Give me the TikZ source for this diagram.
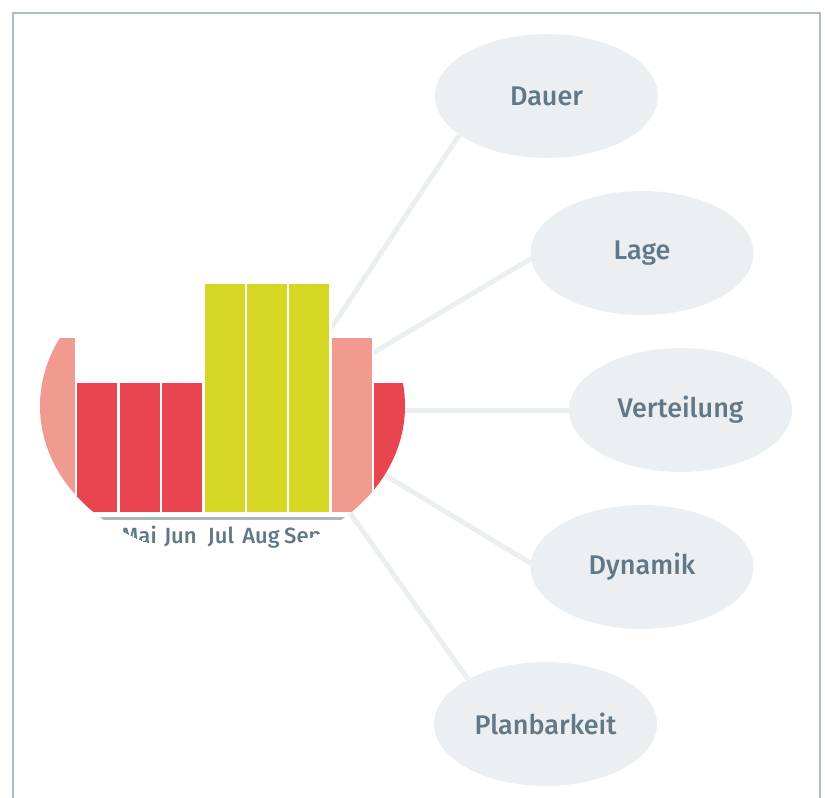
\documentclass[tikz,border=0pt]{standalone}
\usepackage{fontspec}
\setmainfont{Fira Sans}
\newfontfamily\medfont{Fira Sans Medium}
\usetikzlibrary{shapes.geometric,backgrounds}

\definecolor{framecol}{HTML}{AEBCC4}
\definecolor{bubblefill}{HTML}{ECEFF2}
\definecolor{labelcol}{HTML}{617888}
\definecolor{axiscol}{HTML}{A8B7C0}
\definecolor{barred}{HTML}{E84550}
\definecolor{barpink}{HTML}{F09A90}
\definecolor{baryellow}{HTML}{D6D624}

\tikzset{
  bubble/.style={ellipse, fill=bubblefill, minimum width=223pt, minimum height=124pt,
    inner sep=0pt, text=labelcol, font=\medfont\fontsize{27}{30}\selectfont},
  conn/.style={draw=bubblefill, line width=5pt},
  monthlabel/.style={anchor=base, inner sep=0pt, text=labelcol,
    font=\medfont\fontsize{22}{24}\selectfont},
  bar/.style={fill=#1, draw=white, line width=2.4pt},
}

\begin{document}
\begin{tikzpicture}[x=1pt, y=-1pt]
  \useasboundingbox (0,0) rectangle (825,798);

  % outer frame, open towards the bottom
  \draw[framecol, line width=2pt] (12.5,812) -- (12.5,12.5) -- (819.5,12.5) -- (819.5,812);

  % topic bubbles
  \node[bubble] (dauer)       at (546.5,96)  {Dauer};
  \node[bubble] (lage)        at (642,253)   {Lage};
  \node[bubble] (verteilung)  at (680.5,410) {Verteilung};
  \node[bubble] (dynamik)     at (642,567)   {Dynamik};
  \node[bubble] (planbarkeit) at (545.5,724) {Planbarkeit};

  \coordinate (hub) at (277,410);

  % spokes behind everything
  \begin{pgfonlayer}{background}
    \draw[conn] (hub) -- (dauer.204);
    \draw[conn] (hub) -- (lage.183);
    \draw[conn] (hub) -- (verteilung.180);
    \draw[conn] (hub) -- (dynamik.178);
    \draw[conn] (hub) -- (planbarkeit.150);
  \end{pgfonlayer}

  % monthly bar chart seen through an oval window
  \begin{scope}
    \clip (222.5,406) ellipse [x radius=182.5, y radius=150];
    \foreach \i/\top/\col in {0/338/barpink, 1/383/barred, 2/383/barred, 3/383/barred,
                              4/284/baryellow, 5/284/baryellow, 6/284/baryellow,
                              7/338/barpink, 8/383/barred} {
      \path[bar=\col] ({33.8+42.4*\i},{\top-1.2}) rectangle ({76.2+42.4*\i},513.2);
    }
    \draw[axiscol, line width=3pt] (20,518.5) -- (430,518.5);
    \node[monthlabel] (mai) at (139,543)   {Mai};
    \node[monthlabel] (jun) at (180.5,543) {Jun};
    \node[monthlabel] (jul) at (221,543)   {Jul};
    \node[monthlabel] (aug) at (261,543)   {Aug};
    \node[monthlabel] (sep) at (303,543)   {Sep};
  \end{scope}
\end{tikzpicture}
\end{document}
